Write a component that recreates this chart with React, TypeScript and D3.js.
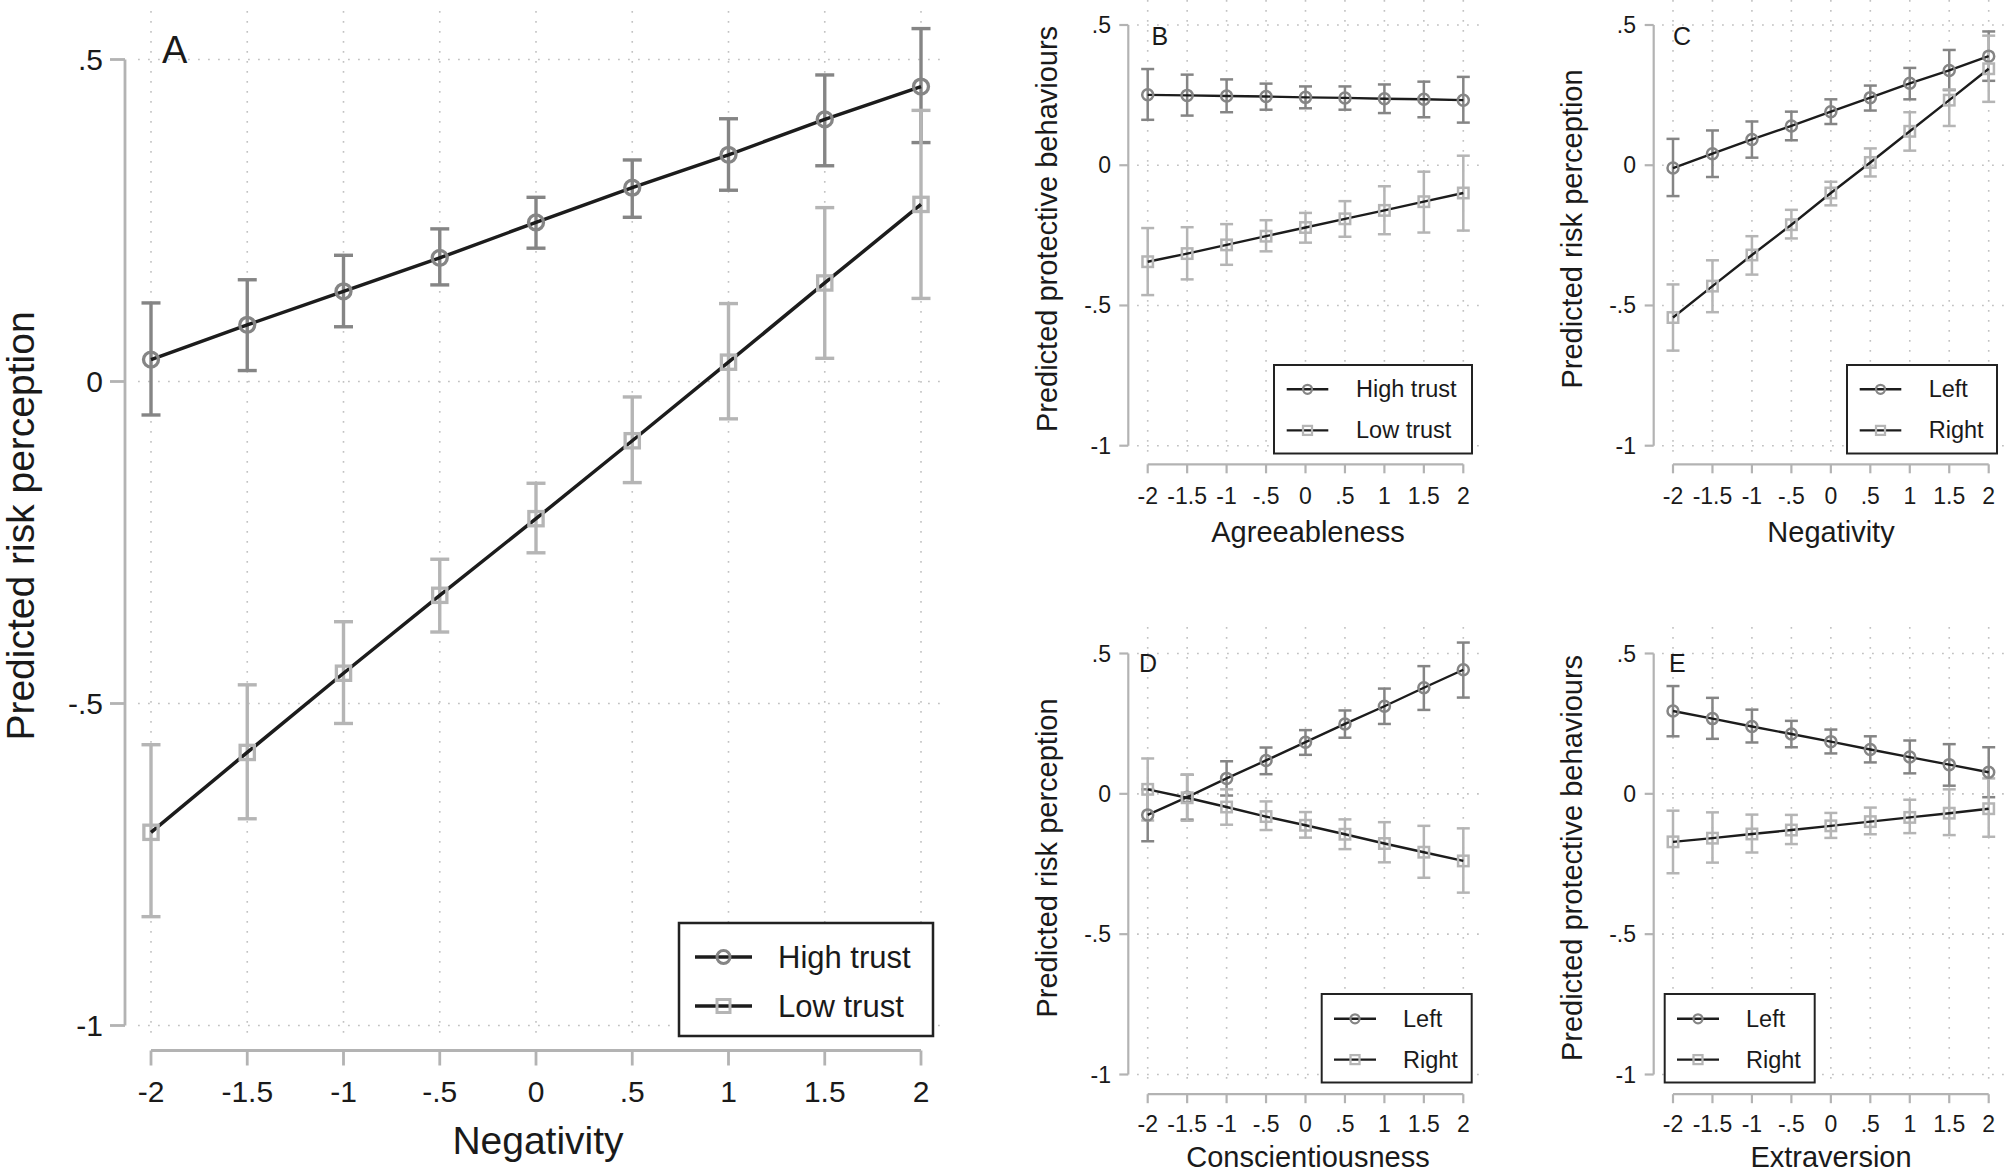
import React from 'react';
import * as d3 from 'd3';

// x levels shared by every panel (standardised predictor)
const levels = [-2, -1.5, -1, -0.5, 0, 0.5, 1, 1.5, 2];
const xTickLabels = ['-2', '-1.5', '-1', '-.5', '0', '.5', '1', '1.5', '2'];
const yTickValues = [0.5, 0, -0.5, -1];
const yTickLabels = ['.5', '0', '-.5', '-1'];

// Panel A: Negativity x trust -> risk perception
const aHighFit = [0.034, 0.088, 0.140, 0.192, 0.247, 0.301, 0.352, 0.407, 0.458];
const aHighLo = [-0.052, 0.017, 0.085, 0.150, 0.207, 0.255, 0.297, 0.335, 0.371];
const aHighHi = [0.122, 0.158, 0.196, 0.237, 0.286, 0.344, 0.408, 0.476, 0.548];
const aLowFit = [-0.700, -0.576, -0.453, -0.332, -0.213, -0.092, 0.030, 0.153, 0.275];
const aLowLo = [-0.831, -0.679, -0.531, -0.389, -0.266, -0.157, -0.058, 0.036, 0.129];
const aLowHi = [-0.564, -0.471, -0.373, -0.276, -0.158, -0.024, 0.121, 0.270, 0.421];

// Panel B: Agreeableness x trust -> protective behaviours
const bHighFit = [0.251, 0.249, 0.247, 0.245, 0.242, 0.240, 0.237, 0.235, 0.232];
const bHighLo = [0.162, 0.177, 0.189, 0.198, 0.203, 0.198, 0.186, 0.171, 0.152];
const bHighHi = [0.343, 0.323, 0.306, 0.291, 0.281, 0.281, 0.288, 0.298, 0.315];
const bLowFit = [-0.344, -0.315, -0.284, -0.253, -0.222, -0.191, -0.161, -0.130, -0.099];
const bLowLo = [-0.463, -0.407, -0.355, -0.307, -0.276, -0.255, -0.246, -0.240, -0.233];
const bLowHi = [-0.224, -0.221, -0.210, -0.196, -0.170, -0.128, -0.075, -0.023, 0.034];

// Panel C: Negativity x ideology -> risk perception
const cLeftFit = [-0.010, 0.041, 0.092, 0.140, 0.191, 0.241, 0.292, 0.338, 0.389];
const cLeftLo = [-0.110, -0.042, 0.027, 0.089, 0.147, 0.195, 0.235, 0.268, 0.301];
const cLeftHi = [0.094, 0.124, 0.156, 0.191, 0.235, 0.284, 0.347, 0.411, 0.477];
const cRightFit = [-0.543, -0.431, -0.320, -0.212, -0.099, 0.010, 0.121, 0.232, 0.344];
const cRightLo = [-0.661, -0.524, -0.390, -0.261, -0.143, -0.040, 0.052, 0.140, 0.226];
const cRightHi = [-0.425, -0.339, -0.253, -0.159, -0.059, 0.060, 0.189, 0.270, 0.462];

// Panel D: Conscientiousness x ideology -> risk perception
const dLeftFit = [-0.075, -0.012, 0.055, 0.119, 0.184, 0.249, 0.312, 0.378, 0.442];
const dLeftLo = [-0.169, -0.092, -0.006, 0.070, 0.139, 0.200, 0.249, 0.299, 0.343];
const dLeftHi = [0.016, 0.068, 0.116, 0.165, 0.227, 0.297, 0.375, 0.455, 0.539];
const dRightFit = [0.016, -0.014, -0.047, -0.081, -0.112, -0.144, -0.177, -0.208, -0.239];
const dRightLo = [-0.095, -0.096, -0.110, -0.129, -0.156, -0.197, -0.244, -0.299, -0.352];
const dRightHi = [0.126, 0.068, 0.016, -0.027, -0.065, -0.091, -0.101, -0.114, -0.123];

// Panel E: Extraversion x ideology -> protective behaviours
const eLeftFit = [0.295, 0.268, 0.240, 0.213, 0.186, 0.158, 0.131, 0.104, 0.077];
const eLeftLo = [0.205, 0.196, 0.183, 0.166, 0.144, 0.112, 0.073, 0.029, -0.012];
const eLeftHi = [0.384, 0.342, 0.300, 0.260, 0.229, 0.205, 0.190, 0.177, 0.166];
const eRightFit = [-0.171, -0.158, -0.143, -0.129, -0.114, -0.099, -0.084, -0.069, -0.053];
const eRightLo = [-0.283, -0.245, -0.209, -0.179, -0.157, -0.144, -0.140, -0.147, -0.153];
const eRightHi = [-0.060, -0.066, -0.074, -0.075, -0.068, -0.049, -0.021, 0.016, 0.055];

const FONT = '"Liberation Sans", Arial, Helvetica, sans-serif';
const DARK = '#858585';
const LIGHT = '#b5b5b5';
const LINE = '#1c1c1c';
const AXIS = '#b3b3b3';
const GRID = '#c2c2c2';
const TEXT = '#1a1a1a';

interface Series {
  name: string;
  fit: number[];
  lo: number[];
  hi: number[];
  color: string;
  shape: 'circle' | 'square';
}

interface Layout {
  x0: number; x1: number; yTop: number; yBot: number;
  axisX: number; axisY: number;
  plotL: number; plotR: number; plotT: number; plotB: number;
  tickLen: number; tickFont: number; yTickEnd: number; xTickY: number;
  titleFont: number; xTitleX: number; xTitleY: number; yTitleX: number; yTitleY: number;
  letterX: number; letterY: number; letterFont: number;
  legX: number; legY: number; legW: number; legH: number; legRows: [number, number];
  legLine: [number, number]; legTextX: number; legFont: number; legR: number;
  lineW: number; markR: number; markW: number; barW: number; capHalf: number; axisW: number;
}

const Marker: React.FC<{ shape: string; x: number; y: number; r: number; color: string; w: number }> = ({ shape, x, y, r, color, w }) =>
  shape === 'circle' ? (
    <circle cx={x} cy={y} r={r} fill="none" stroke={color} strokeWidth={w} />
  ) : (
    <rect x={x - r} y={y - r} width={2 * r} height={2 * r} fill="none" stroke={color} strokeWidth={w} />
  );

const Panel: React.FC<{ L: Layout; series: Series[]; letter: string; xTitle: string; yTitle: string }> = ({ L, series, letter, xTitle, yTitle }) => {
  const x = d3.scaleLinear().domain([-2, 2]).range([L.x0, L.x1]);
  const y = d3.scaleLinear().domain([-1, 0.5]).range([L.yBot, L.yTop]);
  const line = d3.line<number>().x((_, i) => x(levels[i])).y(d => y(d));

  return (
    <g fontFamily={FONT}>
      {/* dotted grid */}
      {yTickValues.map(v => (
        <line key={'gy' + v} x1={L.plotL} x2={L.plotR} y1={y(v)} y2={y(v)} stroke={GRID} strokeWidth={1.6} strokeDasharray="1.8 8.2" />
      ))}
      {levels.map(v => (
        <line key={'gx' + v} x1={x(v)} x2={x(v)} y1={L.plotT} y2={L.plotB} stroke={GRID} strokeWidth={1.6} strokeDasharray="1.8 8.2" />
      ))}

      {/* y axis */}
      <line x1={L.axisX} x2={L.axisX} y1={y(0.5)} y2={y(-1)} stroke={AXIS} strokeWidth={L.axisW} />
      {yTickValues.map((v, i) => (
        <g key={'yt' + v}>
          <line x1={L.axisX - L.tickLen} x2={L.axisX} y1={y(v)} y2={y(v)} stroke={AXIS} strokeWidth={L.axisW} />
          <text x={L.yTickEnd} y={y(v)} textAnchor="end" dominantBaseline="central" fontSize={L.tickFont} fill={TEXT}>{yTickLabels[i]}</text>
        </g>
      ))}

      {/* x axis */}
      <line x1={x(-2)} x2={x(2)} y1={L.axisY} y2={L.axisY} stroke={AXIS} strokeWidth={L.axisW} />
      {levels.map((v, i) => (
        <g key={'xt' + v}>
          <line x1={x(v)} x2={x(v)} y1={L.axisY} y2={L.axisY + L.tickLen} stroke={AXIS} strokeWidth={L.axisW} />
          <text x={x(v)} y={L.xTickY} textAnchor="middle" dominantBaseline="central" fontSize={L.tickFont} fill={TEXT}>{xTickLabels[i]}</text>
        </g>
      ))}

      <text x={L.xTitleX} y={L.xTitleY} textAnchor="middle" dominantBaseline="central" fontSize={L.titleFont} fill={TEXT}>{xTitle}</text>
      <text transform={`translate(${L.yTitleX},${L.yTitleY}) rotate(-90)`} textAnchor="middle" dominantBaseline="central" fontSize={L.titleFont} fill={TEXT}>{yTitle}</text>
      <text x={L.letterX} y={L.letterY} fontSize={L.letterFont} fill={TEXT}>{letter}</text>

      {/* error bars */}
      {series.map(s => (
        <g key={'eb' + s.name} stroke={s.color} strokeWidth={L.barW}>
          {levels.map((v, i) => (
            <g key={i}>
              <line x1={x(v)} x2={x(v)} y1={y(s.lo[i])} y2={y(s.hi[i])} />
              <line x1={x(v) - L.capHalf} x2={x(v) + L.capHalf} y1={y(s.lo[i])} y2={y(s.lo[i])} />
              <line x1={x(v) - L.capHalf} x2={x(v) + L.capHalf} y1={y(s.hi[i])} y2={y(s.hi[i])} />
            </g>
          ))}
        </g>
      ))}

      {/* fitted lines and markers */}
      {series.map(s => (
        <path key={'ln' + s.name} d={line(s.fit) || ''} fill="none" stroke={LINE} strokeWidth={L.lineW} />
      ))}
      {series.map(s => (
        <g key={'mk' + s.name}>
          {levels.map((v, i) => (
            <Marker key={i} shape={s.shape} x={x(v)} y={y(s.fit[i])} r={s.shape === 'circle' ? L.markR : L.markR * 0.95} color={s.color} w={L.markW} />
          ))}
        </g>
      ))}

      {/* legend */}
      <rect x={L.legX} y={L.legY} width={L.legW} height={L.legH} fill="#fff" stroke="#222" strokeWidth={L.axisW * 0.9} />
      {series.map((s, i) => (
        <g key={'lg' + s.name}>
          <line x1={L.legLine[0]} x2={L.legLine[1]} y1={L.legRows[i]} y2={L.legRows[i]} stroke={LINE} strokeWidth={L.lineW} />
          <Marker shape={s.shape} x={(L.legLine[0] + L.legLine[1]) / 2} y={L.legRows[i]} r={L.legR} color={s.color} w={L.markW * 0.9} />
          <text x={L.legTextX} y={L.legRows[i]} dominantBaseline="central" fontSize={L.legFont} fill={TEXT}>{s.name}</text>
        </g>
      ))}
    </g>
  );
};

const smallBase = {
  tickLen: 9, tickFont: 23, titleFont: 29, letterFont: 25,
  legW: 150, legFont: 23.5, legR: 4.5,
  lineW: 2.4, markR: 5.5, markW: 2.5, barW: 2.5, capHalf: 6.5, axisW: 2.2,
};

const layoutA: Layout = {
  x0: 151, x1: 921, yTop: 59.5, yBot: 1025.5, axisX: 125, axisY: 1050.5,
  plotL: 138, plotR: 944, plotT: 11, plotB: 1040,
  tickLen: 15, tickFont: 30, yTickEnd: 103, xTickY: 1091,
  titleFont: 39, xTitleX: 538, xTitleY: 1140, yTitleX: 20, yTitleY: 526,
  letterX: 162, letterY: 63, letterFont: 38,
  legX: 679, legY: 923, legW: 254, legH: 113, legRows: [957, 1006],
  legLine: [695, 752], legTextX: 778, legFont: 31, legR: 6.5,
  lineW: 3.5, markR: 7.5, markW: 3.3, barW: 3.4, capHalf: 9.5, axisW: 2.8,
};

const layoutB: Layout = {
  ...smallBase,
  x0: 1147.7, x1: 1463.3, yTop: 25, yBot: 445.7, axisX: 1128.3, axisY: 464.3,
  plotL: 1137, plotR: 1483, plotT: 0, plotB: 457,
  yTickEnd: 1111, xTickY: 495.5, xTitleX: 1308, xTitleY: 532, yTitleX: 1047, yTitleY: 229,
  letterX: 1151.5, letterY: 45,
  legX: 1274, legY: 365, legW: 198, legH: 88.5, legRows: [389.3, 430.4],
  legLine: [1286.7, 1328.3], legTextX: 1356,
};

const layoutC: Layout = {
  ...smallBase,
  x0: 1673, x1: 1988.7, yTop: 25, yBot: 445.7, axisX: 1653.7, axisY: 464.3,
  plotL: 1662, plotR: 2008, plotT: 0, plotB: 457,
  yTickEnd: 1636, xTickY: 495.5, xTitleX: 1831, xTitleY: 532, yTitleX: 1572, yTitleY: 229,
  letterX: 1673, letterY: 45,
  legX: 1847, legY: 365, legH: 88.5, legRows: [389.3, 430.4],
  legLine: [1859.7, 1901.3], legTextX: 1928.7,
};

const layoutD: Layout = {
  ...smallBase,
  x0: 1147.7, x1: 1463.3, yTop: 653.5, yBot: 1074.5, axisX: 1128.3, axisY: 1094.2,
  plotL: 1137, plotR: 1483, plotT: 627, plotB: 1084,
  yTickEnd: 1111, xTickY: 1124.4, xTitleX: 1308, xTitleY: 1157, yTitleX: 1047, yTitleY: 858,
  letterX: 1139, letterY: 672,
  legX: 1321.7, legY: 994, legH: 88.5, legRows: [1018.8, 1059.6],
  legLine: [1334, 1376], legTextX: 1403,
};

const layoutE: Layout = {
  ...smallBase,
  x0: 1673, x1: 1988.7, yTop: 653.5, yBot: 1074.5, axisX: 1653.7, axisY: 1094.2,
  plotL: 1662, plotR: 2008, plotT: 627, plotB: 1084,
  yTickEnd: 1636, xTickY: 1124.4, xTitleX: 1831, xTitleY: 1157, yTitleX: 1572, yTitleY: 858,
  letterX: 1669, letterY: 672,
  legX: 1664.7, legY: 994, legH: 88.5, legRows: [1018.8, 1059.6],
  legLine: [1677, 1719], legTextX: 1746,
};

const trust = (hf: number[], hl: number[], hh: number[], lf: number[], ll: number[], lh: number[]): Series[] => [
  { name: 'High trust', fit: hf, lo: hl, hi: hh, color: DARK, shape: 'circle' },
  { name: 'Low trust', fit: lf, lo: ll, hi: lh, color: LIGHT, shape: 'square' },
];
const ideology = (hf: number[], hl: number[], hh: number[], lf: number[], ll: number[], lh: number[]): Series[] => [
  { name: 'Left', fit: hf, lo: hl, hi: hh, color: DARK, shape: 'circle' },
  { name: 'Right', fit: lf, lo: ll, hi: lh, color: LIGHT, shape: 'square' },
];

export default function App() {
  return (
    <svg width={2008} height={1171} style={{ position: 'absolute', left: 0, top: 0, background: '#fff' }}>
      <rect width={2008} height={1171} fill="#fff" />
      <Panel L={layoutA} letter="A" xTitle="Negativity" yTitle="Predicted risk perception"
        series={trust(aHighFit, aHighLo, aHighHi, aLowFit, aLowLo, aLowHi)} />
      <Panel L={layoutB} letter="B" xTitle="Agreeableness" yTitle="Predicted protective behaviours"
        series={trust(bHighFit, bHighLo, bHighHi, bLowFit, bLowLo, bLowHi)} />
      <Panel L={layoutC} letter="C" xTitle="Negativity" yTitle="Predicted risk perception"
        series={ideology(cLeftFit, cLeftLo, cLeftHi, cRightFit, cRightLo, cRightHi)} />
      <Panel L={layoutD} letter="D" xTitle="Conscientiousness" yTitle="Predicted risk perception"
        series={ideology(dLeftFit, dLeftLo, dLeftHi, dRightFit, dRightLo, dRightHi)} />
      <Panel L={layoutE} letter="E" xTitle="Extraversion" yTitle="Predicted protective behaviours"
        series={ideology(eLeftFit, eLeftLo, eLeftHi, eRightFit, eRightLo, eRightHi)} />
    </svg>
  );
}
